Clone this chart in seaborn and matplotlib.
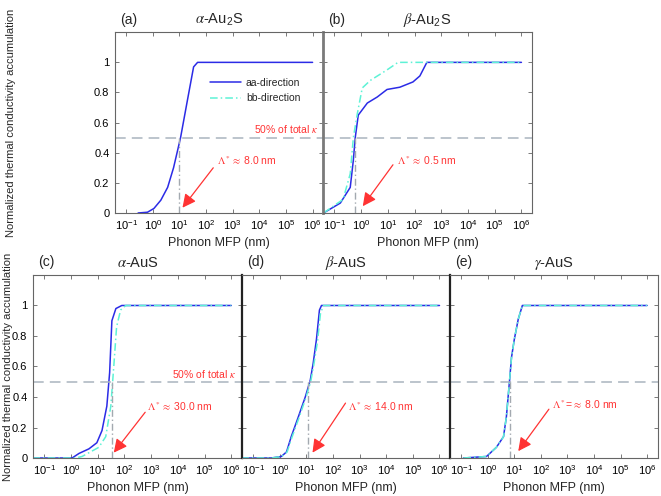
import matplotlib
matplotlib.use("Agg")
import matplotlib.pyplot as plt
import seaborn as sns
from matplotlib.lines import Line2D

sns.set_style("ticks")
plt.rcParams['font.family'] = ['Liberation Sans', 'DejaVu Sans']
plt.rcParams['mathtext.fontset'] = 'stix'
plt.rcParams['axes.unicode_minus'] = False

# ---- data (MFP in nm, normalized accumulation) ----
a_aa_mfp = [0.28, 0.63, 1.1, 2.0, 3.6, 6.0, 11, 20, 34, 48, 1e6]
a_aa_acc = [0.0, 0.005, 0.03, 0.085, 0.17, 0.3, 0.5, 0.75, 0.97, 1.0, 1.0]

b_aa_mfp = [0.039, 0.166, 0.39, 0.51, 0.6, 0.78, 1.7, 4.0, 9.3, 28, 87, 158, 288, 1e6]
b_aa_acc = [0.0, 0.066, 0.17, 0.35, 0.5, 0.65, 0.73, 0.77, 0.82, 0.835, 0.87, 0.91, 1.0, 1.0]
b_bb_mfp = [0.039, 0.21, 0.39, 0.51, 0.72, 1.1, 2.2, 9.3, 24, 1e6]
b_bb_acc = [0.0, 0.09, 0.26, 0.5, 0.66, 0.83, 0.88, 0.95, 1.0, 1.0]

c_aa_mfp = [0.036, 1.1, 2.0, 4.7, 9.3, 14.5, 22, 28, 34, 48, 80, 1e6]
c_aa_acc = [0.0, 0.0, 0.03, 0.06, 0.1, 0.18, 0.34, 0.56, 0.9, 0.98, 1.0, 1.0]
c_bb_mfp = [0.036, 1.5, 2.6, 11, 20, 31, 40, 51, 72, 112, 1e6]
c_bb_acc = [0.0, 0.0, 0.01, 0.07, 0.14, 0.34, 0.6, 0.86, 0.97, 1.0, 1.0]

d_aa_mfp = [0.036, 0.48, 1.15, 1.8, 2.7, 5.0, 9.1, 14, 18, 24, 31, 37, 1e6]
d_aa_acc = [0.0, 0.0, 0.01, 0.04, 0.14, 0.27, 0.4, 0.51, 0.62, 0.78, 0.97, 1.0, 1.0]
d_bb_mfp = [0.036, 0.5, 1.2, 1.9, 2.8, 5.2, 9.4, 14.5, 19, 26, 34, 44, 1e6]
d_bb_acc = [0.0, 0.0, 0.01, 0.04, 0.13, 0.26, 0.39, 0.5, 0.61, 0.76, 0.95, 1.0, 1.0]

e_aa_mfp = [0.12, 0.89, 2.1, 3.9, 5.0, 6.6, 7.8, 10, 14, 20, 1e6]
e_aa_acc = [0.0, 0.01, 0.07, 0.14, 0.27, 0.51, 0.66, 0.78, 0.91, 1.0, 1.0]
e_bb_mfp = [0.12, 0.89, 2.1, 3.9, 5.0, 6.6, 7.8, 10, 14, 20, 1e6]
e_bb_acc = [0.0, 0.01, 0.07, 0.14, 0.27, 0.51, 0.66, 0.78, 0.91, 1.0, 1.0]

panel_tags = ["(a)", "(b)", "(c)", "(d)", "(e)"]
panel_titles = [r"$\alpha$-Au$_\mathregular{2}$S", r"$\beta$-Au$_\mathregular{2}$S",
                r"$\alpha$-AuS", r"$\beta$-AuS", r"$\gamma$-AuS"]
lam_star = [10, 0.6, 33, 12, 6.6]
lam_text = [r"$\Lambda^*$$\approx$ 8.0 nm", r"$\Lambda^*$$\approx$ 0.5 nm",
            r"$\Lambda^*$$\approx$ 30.0 nm", r"$\Lambda^*$$\approx$ 14.0 nm",
            r"$\Lambda^*$=$\approx$ 8.0 nm"]
text_pos = [(263, 0.35), (22, 0.35), (680, 0.34), (380, 0.34), (257, 0.35)]
arrow_tail = [(186, 0.30), (15.5, 0.32), (600, 0.30), (295, 0.36), (200, 0.32)]
arrow_head = [(13, 0.035), (1.15, 0.045), (40, 0.035), (17, 0.035), (14, 0.045)]
kappa_level = [0.56, None, 0.55, None, None]

curves = [
    [(a_aa_mfp, a_aa_acc, "aa")],
    [(b_aa_mfp, b_aa_acc, "aa"), (b_bb_mfp, b_bb_acc, "bb")],
    [(c_aa_mfp, c_aa_acc, "aa"), (c_bb_mfp, c_bb_acc, "bb")],
    [(d_aa_mfp, d_aa_acc, "aa"), (d_bb_mfp, d_bb_acc, "bb")],
    [(e_aa_mfp, e_aa_acc, "aa"), (e_bb_mfp, e_bb_acc, "bb")],
]

blue = "#2b2be6"
cyan = "#5ef2d6"
red = "#ff3333"
gray_dash = "#a9b4bf"

positions = [
    [0.174, 0.5706, 0.315, 0.3644],
    [0.489, 0.5706, 0.316, 0.3644],
    [0.050, 0.0766, 0.316, 0.369],
    [0.366, 0.0766, 0.315, 0.369],
    [0.681, 0.0766, 0.314, 0.369],
]

fig = plt.figure(figsize=(6.61, 4.96), dpi=100)

for i in range(5):
    ax = fig.add_axes(positions[i])
    for mfp, acc, d in curves[i]:
        if d == "aa":
            sns.lineplot(x=mfp, y=acc, ax=ax, color=blue, lw=1.1, estimator=None, sort=False)
        else:
            sns.lineplot(x=mfp, y=acc, ax=ax, color=cyan, lw=1.1, estimator=None, sort=False,
                         linestyle=(0, (5, 2, 1, 2)))
    ax.set_xscale("log")
    ax.set_xlim(10 ** -1.42, 10 ** 6.4)
    ax.set_ylim(0, 1.2)
    ax.axhline(0.5, color=gray_dash, lw=1.1, dashes=(7, 4))
    ax.plot([lam_star[i], lam_star[i]], [0, 0.5], color="#a3a9b0", lw=1,
            linestyle=(0, (5, 2, 1, 2)))
    ax.text(*text_pos[i], lam_text[i], color=red, fontsize=7.5, va="center", ha="left")
    ax.annotate("", xy=arrow_head[i], xytext=arrow_tail[i],
                arrowprops=dict(arrowstyle="-|>,head_length=0.8,head_width=0.4", color=red,
                                lw=0.9, mutation_scale=10, shrinkA=0, shrinkB=0))
    if kappa_level[i] is not None:
        ax.text(0.975, kappa_level[i], r"50% of total $\kappa$", color=red,
                fontsize=7.5, ha="right", va="center", transform=ax.get_yaxis_transform())
    ax.set_xticks([1e-1, 1e0, 1e1, 1e2, 1e3, 1e4, 1e5, 1e6])
    ax.set_yticks([0, 0.2, 0.4, 0.6, 0.8, 1.0])
    if i in (0, 2):
        ax.set_yticklabels(["0", "0.2", "0.4", "0.6", "0.8", "1"])
        ax.set_ylabel("Normalized thermal conductivity accumulation", fontsize=8)
        ax.yaxis.set_label_coords(-0.475 if i == 0 else -0.095, 0.5)
    else:
        ax.set_yticklabels([])
    ax.set_xlabel("Phonon MFP (nm)", fontsize=9, labelpad=3)
    ax.tick_params(which="both", direction="in", top=True, right=True, labelsize=8,
                   width=0.5, colors="#444444", labelcolor="black")
    ax.tick_params(which="major", length=3, pad=4)
    ax.tick_params(which="minor", length=1.5)
    for s in ax.spines.values():
        s.set_color("#666666")
        s.set_linewidth(0.8)
    if i == 1:
        ax.spines["left"].set_color("#7a7a7a")
        ax.spines["left"].set_linewidth(2.0)
    if i in (3, 4):
        ax.spines["left"].set_color("#222222")
        ax.spines["left"].set_linewidth(1.6)
    ax.set_title(panel_titles[i], fontsize=10.5, pad=6)
    ax.text(0.025, 1.03, panel_tags[i], fontsize=10, transform=ax.transAxes,
            ha="left", va="bottom")
    if i == 0:
        handles = [Line2D([], [], color=blue, lw=1.1),
                   Line2D([], [], color=cyan, lw=1.1, linestyle=(0, (5, 2, 1, 2)))]
        ax.legend(handles, ["aa-direction", "bb-direction"], loc="upper left",
                  bbox_to_anchor=(0.413, 0.80), frameon=False, fontsize=7.5,
                  handlelength=2.9, handletextpad=0.5, labelspacing=0.55)

fig.savefig("out.png", dpi=100)
